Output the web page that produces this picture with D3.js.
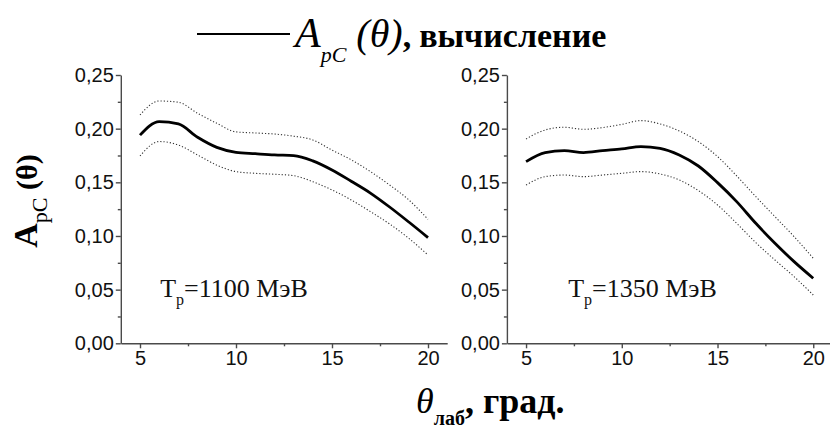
<!DOCTYPE html>
<html><head><meta charset="utf-8">
<script src="https://cdn.jsdelivr.net/npm/d3@7/dist/d3.min.js"></script>
<style>body{margin:0;background:#fff}svg{display:block}</style>
</head><body><svg id="c" width="830" height="428"></svg>
<script>
// ---- data ----
const angles = [5,6,7,8,9,10,11,12,13,14,15,16,17,18,19,20];
const calc1100  = [0.194,0.2066,0.2044,0.192,0.1826,0.178,0.1767,0.1755,0.1749,0.170,0.1615,0.151,0.140,0.127,0.113,0.0985];
const upper1100 = [0.2128,0.2258,0.2246,0.2143,0.205,0.197,0.196,0.195,0.193,0.1895,0.180,0.171,0.160,0.1475,0.1336,0.1155];
const lower1100 = [0.1746,0.188,0.1848,0.1755,0.166,0.160,0.1584,0.1575,0.1562,0.1506,0.1429,0.1336,0.1227,0.1112,0.0978,0.0823];
const calc1350  = [0.1693,0.1777,0.1795,0.1777,0.1795,0.1811,0.1833,0.1817,0.1755,0.1652,0.1497,0.132,0.1118,0.0932,0.0761,0.0606];
const upper1350 = [0.1904,0.1988,0.2013,0.1994,0.201,0.204,0.2075,0.2044,0.1979,0.1879,0.174,0.156,0.1367,0.118,0.0994,0.0792];
const lower1350 = [0.1475,0.1553,0.1568,0.1553,0.1568,0.1584,0.160,0.1578,0.1522,0.1423,0.1289,0.1118,0.0938,0.0776,0.0621,0.045];
const energies = ["1100","1350"];
const yTicks = [0,0.05,0.10,0.15,0.20,0.25];
const yMinorTicks = [0.025,0.075,0.125,0.175,0.225];
const xTicks = [5,10,15,20];
const xMinorTicks = [7.5,12.5,17.5];

const svg = d3.select("#c");
const axisColor = "#4a4a4a";
const SERIF = "'Liberation Serif','Times New Roman',Times,Tinos,'DejaVu Serif',serif";
const SANS = "'Liberation Sans',Arial,Helvetica,sans-serif";
const fmt = v => d3.format(".2f")(v).replace(".", ",");

const y = d3.scaleLinear().domain([0,0.25]).range([343.3,75]);

function panel(x0, x1, calc, upper, lower, energy, labelX) {
  const x = d3.scaleLinear().domain([4,21]).range([x0, x1]);
  const g = svg.append("g");
  g.append("g").attr("transform",`translate(${x0},0)`)
    .call(d3.axisLeft(y).tickValues(yMinorTicks).tickSize(3).tickFormat(""))
    .call(a => a.select(".domain").remove());
  g.append("g").attr("transform",`translate(0,${y(0)})`)
    .call(d3.axisBottom(x).tickValues(xMinorTicks).tickSize(3).tickFormat(""))
    .call(a => a.select(".domain").remove());
  g.append("g").attr("transform",`translate(${x0},0)`)
    .call(d3.axisLeft(y).tickValues(yTicks).tickSize(5).tickSizeOuter(0).tickPadding(2).tickFormat(fmt));
  g.append("g").attr("transform",`translate(0,${y(0)})`)
    .call(d3.axisBottom(x).tickValues(xTicks).tickSize(5).tickSizeOuter(0).tickPadding(3));
  g.selectAll(".domain, .tick line").attr("stroke", axisColor).attr("stroke-width",1.4);
  g.selectAll(".tick text").attr("fill","#111").attr("font-family",SANS).attr("font-size",20);

  const line = d3.line().x((d,i)=>x(angles[i])).y(d=>y(d)).curve(d3.curveMonotoneX);
  [upper, lower].forEach(s => g.append("path").attr("d", line(s)).attr("fill","none")
      .attr("stroke","#333").attr("stroke-width",1.1).attr("stroke-dasharray","1.2,2"));
  g.append("path").attr("d", line(calc)).attr("fill","none").attr("stroke","#000").attr("stroke-width",2.8)
    .attr("stroke-linejoin","round");

  const t = g.append("text").attr("x", x(labelX)).attr("y", 297)
    .attr("font-family",SERIF).attr("font-size",26).attr("fill","#111");
  t.append("tspan").text("T");
  t.append("tspan").attr("font-size",16).attr("dy",8).text("p");
  t.append("tspan").attr("dy",-8).text("=" + energy + " МэВ");
}

panel(120.8, 447.2, calc1100, upper1100, lower1100, energies[0], 6.05);
panel(506.9, 832.4, calc1350, upper1350, lower1350, energies[1], 7.2);

// legend / title
svg.append("line").attr("x1",197).attr("x2",290).attr("y1",34).attr("y2",34).attr("stroke","#000").attr("stroke-width",2);
const ttl = svg.append("text").attr("x",295).attr("y",47).attr("font-family",SERIF).attr("fill","#000");
ttl.append("tspan").attr("font-style","italic").attr("font-size",42).text("A");
ttl.append("tspan").attr("font-style","italic").attr("font-size",22).attr("dy",15).text("pC");
ttl.append("tspan").attr("font-style","italic").attr("font-size",40).attr("dy",-15).text(" (θ)");
ttl.append("tspan").attr("font-weight","bold").attr("font-size",34).text(",");
ttl.append("tspan").attr("font-weight","bold").attr("font-size",34).attr("dx",8).text("вычисление");

// y-axis title
const yl = svg.append("text").attr("transform","translate(37,201) rotate(-90)").attr("text-anchor","middle")
  .attr("font-family",SERIF).attr("font-weight","bold").attr("fill","#000");
yl.append("tspan").attr("font-size",34).text("A");
yl.append("tspan").attr("font-size",22).attr("font-weight","normal").attr("dy",10).text("pC");
yl.append("tspan").attr("font-size",30).attr("dy",-10).text(" (θ)");

// x-axis title
const xl = svg.append("text").attr("x",416).attr("y",413).attr("font-family",SERIF).attr("fill","#000");
xl.append("tspan").attr("font-style","italic").attr("font-size",36).text("θ");
xl.append("tspan").attr("font-size",20).attr("font-weight","bold").attr("dy",12).text("лаб");
xl.append("tspan").attr("font-size",36).attr("font-weight","bold").attr("dy",-12).text(", град.");
</script></body></html>
